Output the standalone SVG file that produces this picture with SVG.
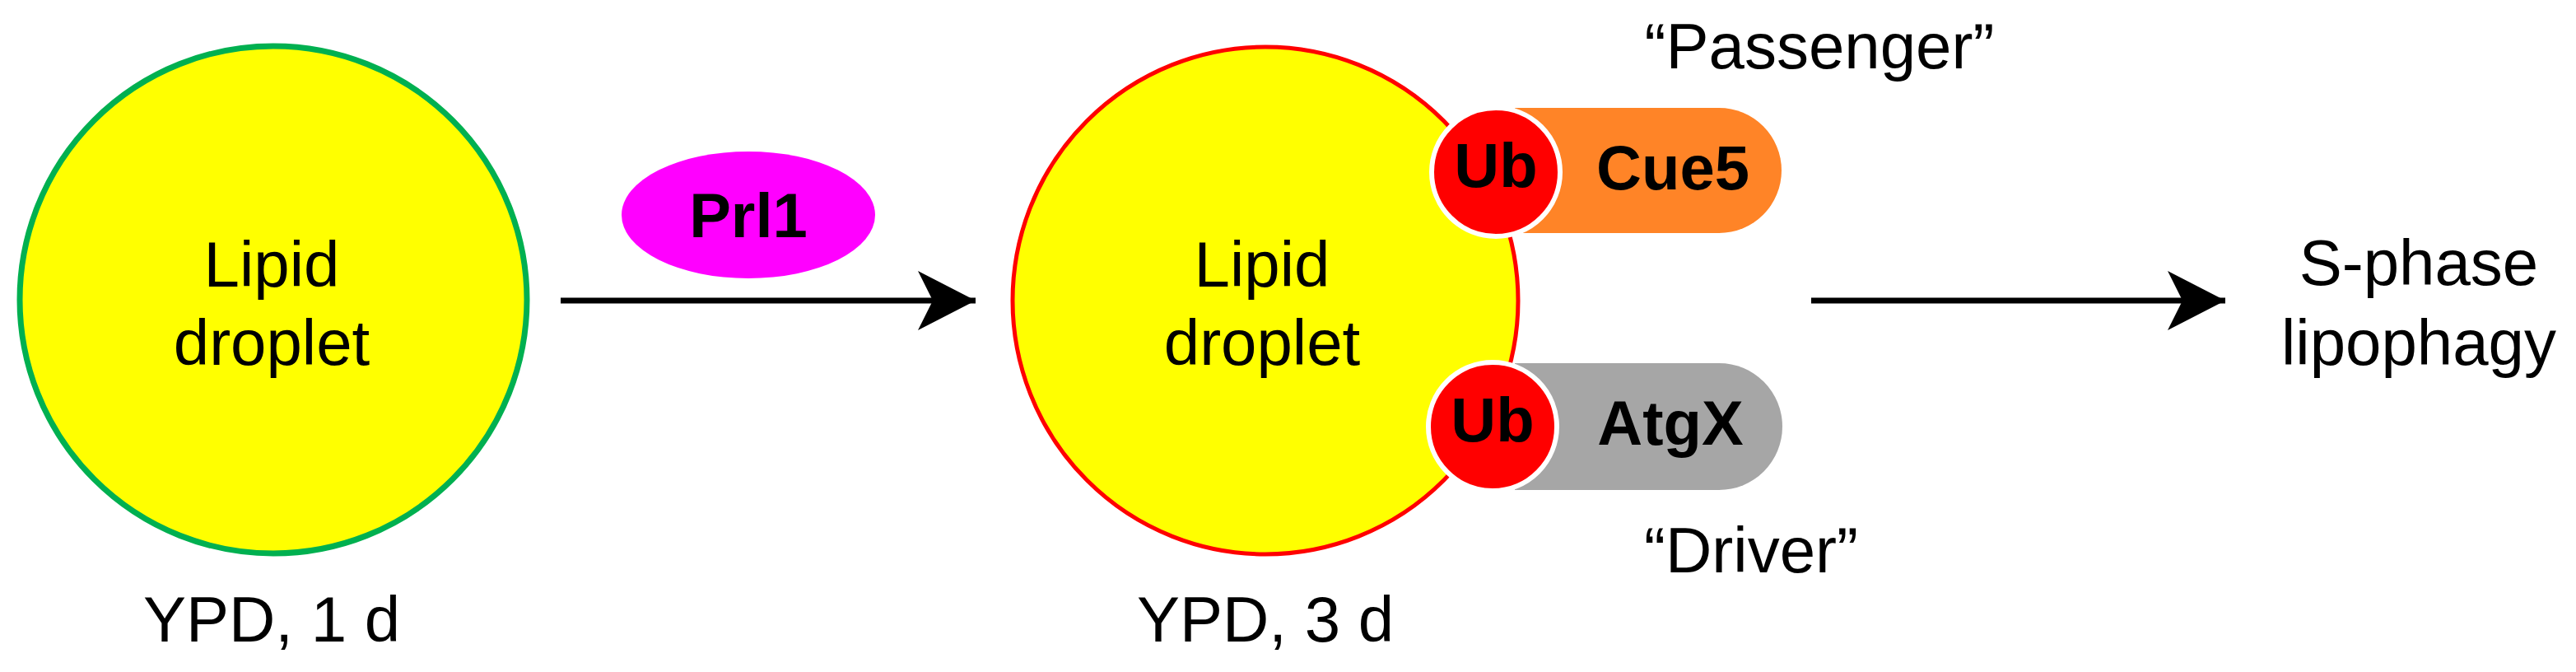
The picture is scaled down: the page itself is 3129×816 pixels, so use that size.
<svg xmlns="http://www.w3.org/2000/svg" width="3129" height="816" viewBox="0 0 3129 816">
<style>
text{font-family:"Liberation Sans",Arial,sans-serif;fill:#000;text-anchor:middle}
.n{font-size:78px}
.b{font-size:76px;font-weight:bold}
.ub{fill:#FF0000;stroke:#fff;stroke-width:6}
.c{stroke:#000;stroke-width:7;fill:none}
</style>
<defs>
<marker id="ah" markerUnits="userSpaceOnUse" markerWidth="80" markerHeight="80" refX="72" refY="36" orient="auto">
<path d="M2,0 L72,36 L2,72 L20,36 Z" fill="#000"/>
</marker>
</defs>
<rect width="3129" height="816" fill="#fff"/>
<g id="connectors">
<line class="c" x1="681" y1="365" x2="1185" y2="365" marker-end="url(#ah)"/>
<line class="c" x1="2200" y1="365" x2="2703" y2="365" marker-end="url(#ah)"/>
</g>
<g id="droplet1">
<ellipse cx="332" cy="364" rx="308" ry="308" fill="#FFFF00" stroke="#00B050" stroke-width="7"/>
<text class="n" x="330" y="348">Lipid</text>
<text class="n" x="330" y="443">droplet</text>
<text class="n" x="330" y="779">YPD, 1 d</text>
</g>
<g id="prl1">
<ellipse cx="909" cy="261" rx="154" ry="77" fill="#FF00FF"/>
<text class="b" x="909" y="288">Prl1</text>
</g>
<g id="droplet2">
<ellipse cx="1537" cy="365" rx="307" ry="308" fill="#FFFF00" stroke="#FF0000" stroke-width="5"/>
<text class="n" x="1533" y="348">Lipid</text>
<text class="n" x="1533" y="443">droplet</text>
<text class="n" x="1537" y="779">YPD, 3 d</text>
</g>
<g id="cue5">
<path d="M1840,131 H2088 A76,76 0 0 1 2088,283 H1840 Z" fill="#FF8427"/>
<text class="b" x="2032" y="230">Cue5</text>
</g>
<g id="ub1">
<circle class="ub" cx="1817" cy="209" r="78"/>
<text class="b" x="1817" y="227">Ub</text>
</g>
<g id="atgx">
<path d="M1840,441 H2088 A77,77 0 0 1 2088,595 H1840 Z" fill="#A6A6A6"/>
<text class="b" x="2029" y="540">AtgX</text>
</g>
<g id="ub2">
<circle class="ub" cx="1813" cy="518" r="78"/>
<text class="b" x="1813" y="536">Ub</text>
</g>
<g id="labels">
<text class="n" x="2210" y="83">“Passenger”</text>
<text class="n" x="2127" y="695">“Driver”</text>
<text class="n" x="2938" y="346">S-phase</text>
<text class="n" x="2938" y="443">lipophagy</text>
</g>
</svg>
